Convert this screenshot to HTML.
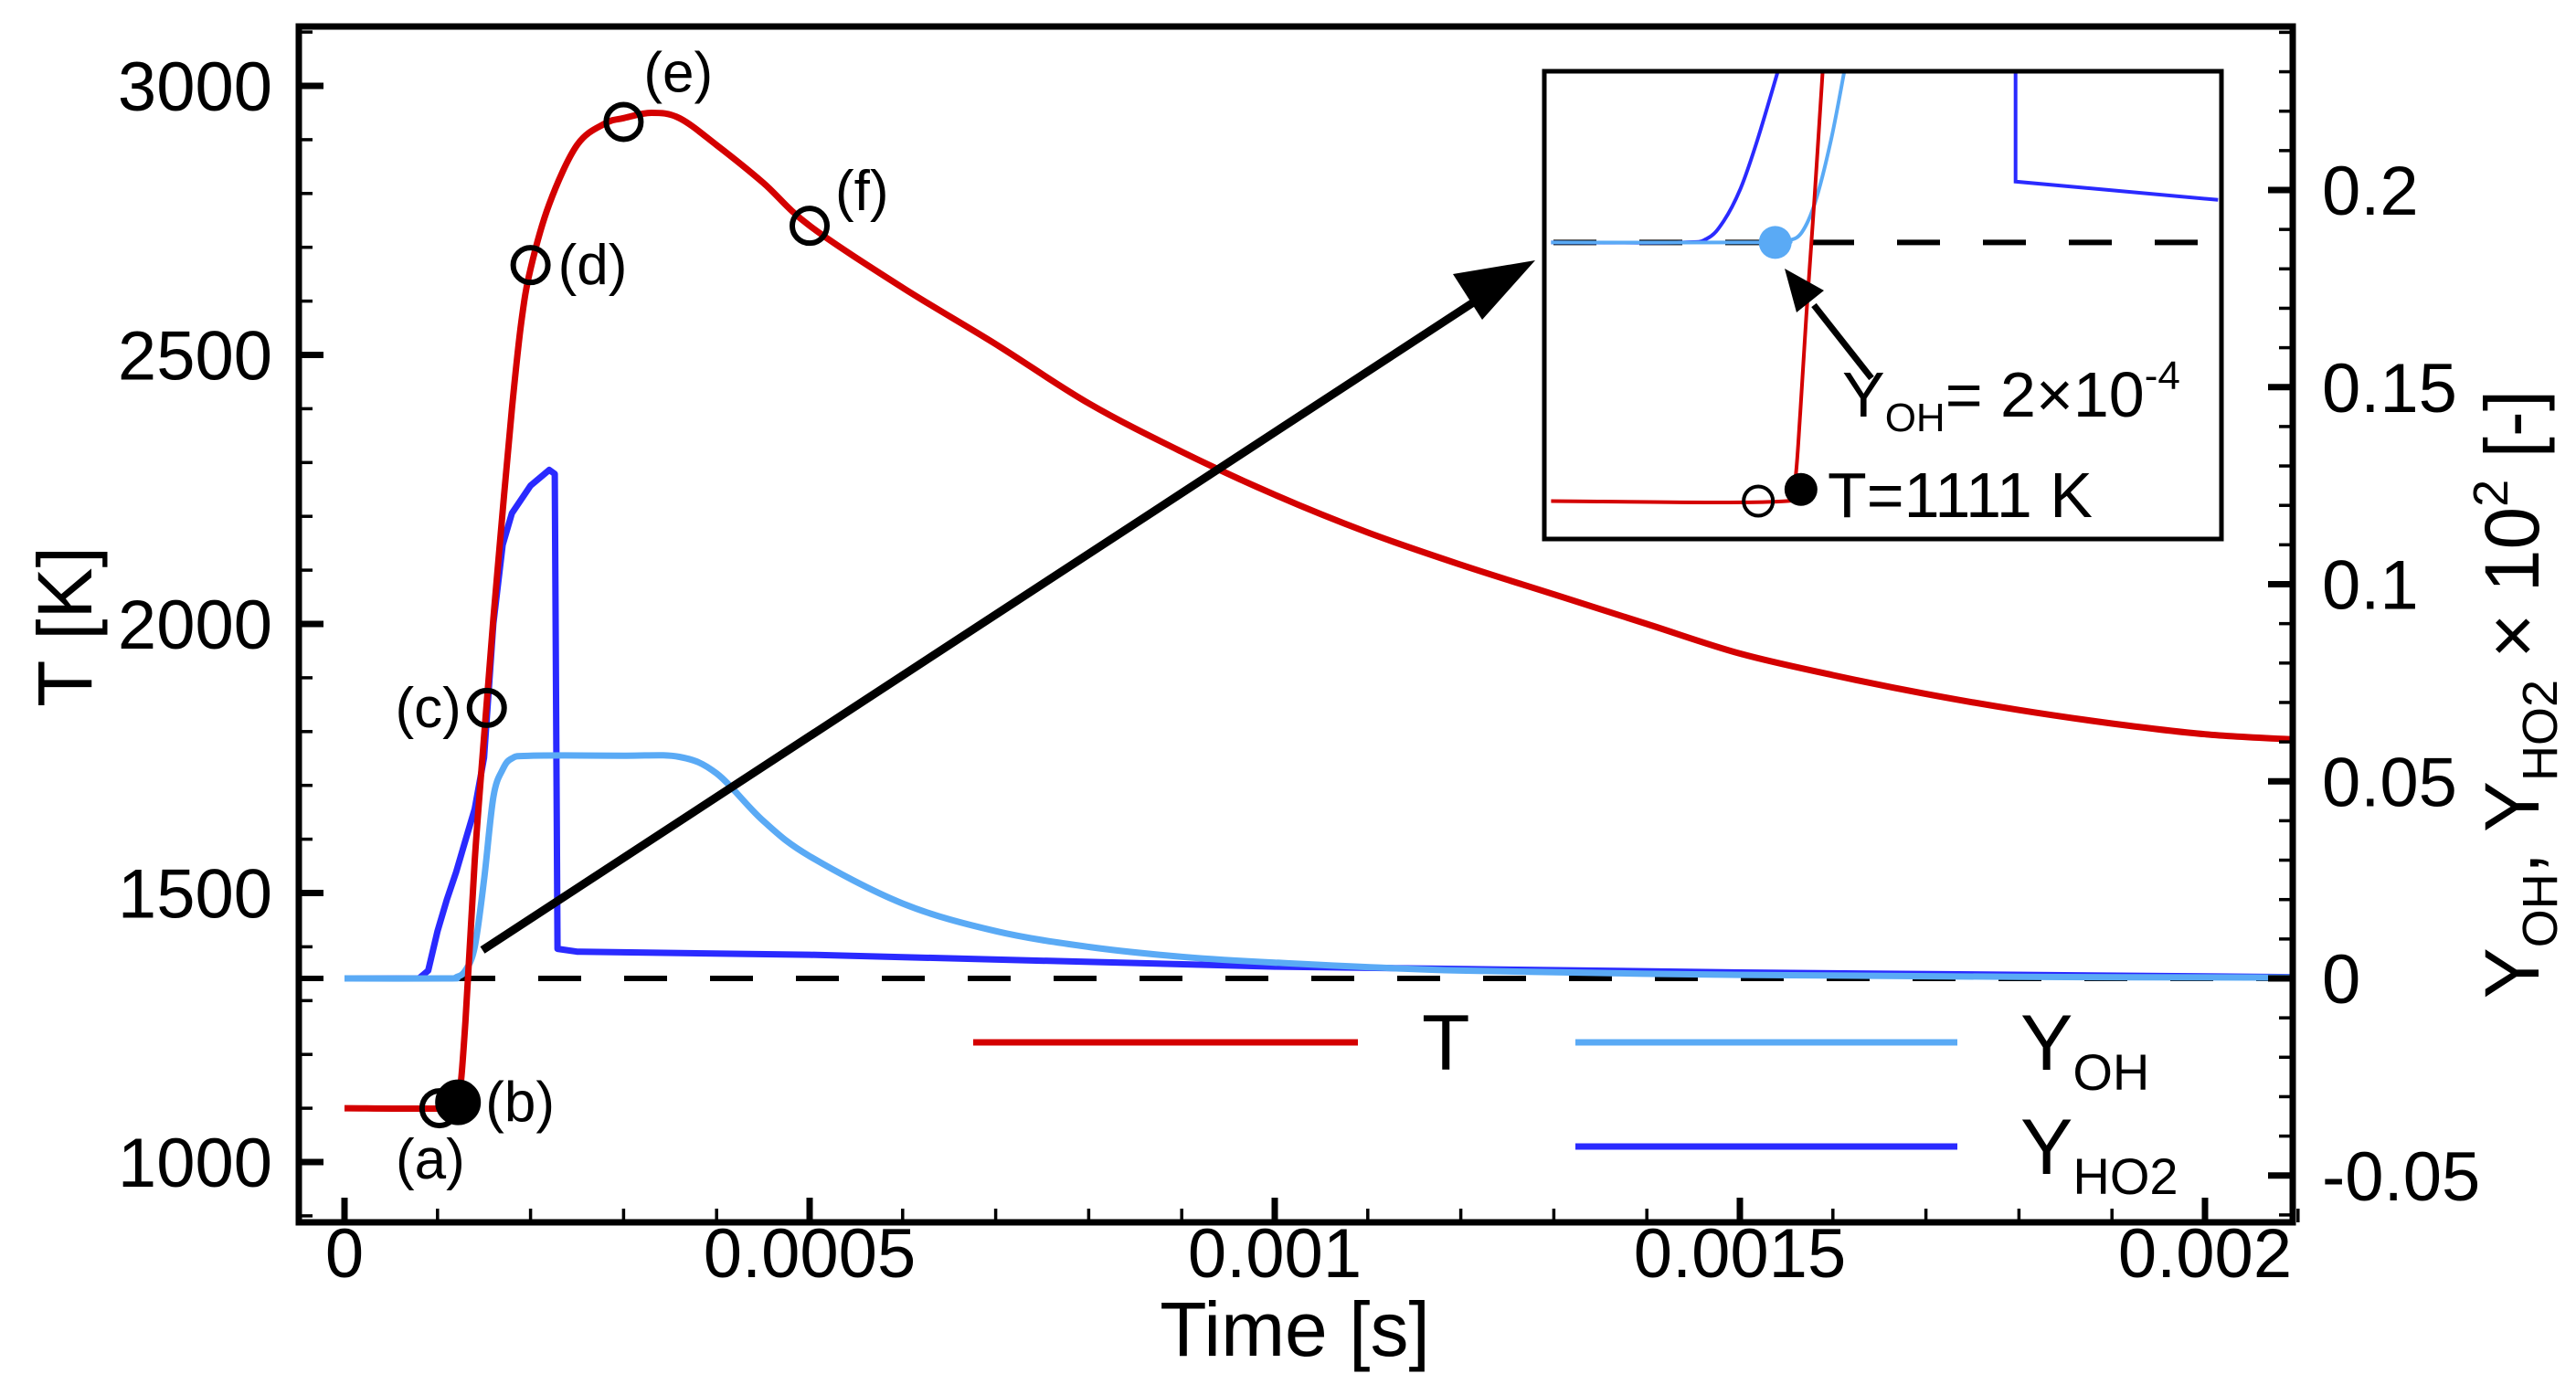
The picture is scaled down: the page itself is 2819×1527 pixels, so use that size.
<!DOCTYPE html>
<html><head><meta charset="utf-8"><style>
html,body{margin:0;padding:0;background:#fff;}
svg{display:block;font-family:"Liberation Sans",sans-serif;}
</style></head><body>
<svg id="chart" width="2819" height="1527" viewBox="0 0 2819 1527" xmlns="http://www.w3.org/2000/svg">
<g id="plot"></g>
</svg>
<script>
// ---- data ----
const tTime = [0,0.00011,0.000122,0.00013,0.00014,0.00015,0.00016,0.00017,0.00018,0.00019,0.0002,0.00022,0.00025,0.00028,0.0003,0.00033,0.00036,0.0004,0.00045,0.0005,0.0006,0.0007,0.0008,0.0009,0.001,0.0011,0.0012,0.0013,0.0014,0.0015,0.0016,0.0017,0.0018,0.0019,0.002,0.0021];
const tValues = [1100,1100,1111,1260,1560,1790,2010,2210,2400,2560,2660,2780,2890,2930,2940,2950,2940,2890,2820,2740,2625,2520,2410,2320,2240,2170,2110,2055,2000,1945,1905,1870,1840,1815,1795,1785];
const ohTime = [0,0.00011,0.00012,0.00013,0.00014,0.00015,0.00016,0.00017,0.00018,0.0002,0.0003,0.00036,0.0004,0.00045,0.0005,0.0006,0.0007,0.0008,0.0009,0.001,0.0012,0.0015,0.0018,0.0021];
const ohValues = [0,0,0.0003,0.002,0.008,0.025,0.046,0.053,0.0558,0.0565,0.0565,0.0562,0.052,0.040,0.031,0.019,0.012,0.008,0.0055,0.004,0.002,0.0009,0.0004,0.0002];
const ho2Time = [0,0.00008,0.00009,0.0001,0.00011,0.00012,0.00013,0.00014,0.00015,0.00016,0.00017,0.00018,0.0002,0.00022,0.000226,0.000229,0.00025,0.0005,0.001,0.0015,0.002,0.0021];
const ho2Values = [0,0,0.002,0.012,0.02,0.027,0.035,0.043,0.056,0.09,0.11,0.118,0.125,0.129,0.128,0.0075,0.0068,0.006,0.003,0.0015,0.0005,0.0003];
const xTicks = [0,0.0005,0.001,0.0015,0.002];
const xTickLabels = ["0","0.0005","0.001","0.0015","0.002"];
const yTicks = [1000,1500,2000,2500,3000];
const yTickLabels = ["1000","1500","2000","2500","3000"];
const y2Ticks = [-0.05,0,0.05,0.1,0.15,0.2];
const y2TickLabels = ["-0.05","0","0.05","0.1","0.15","0.2"];
const markerTimes = [0.000102,0.000122,0.000153,0.0002,0.0003,0.0005];
const markerTemps = [1100,1111,1844,2667,2933,2740];
const markerLabels = ["(a)","(b)","(c)","(d)","(e)","(f)"];
// inset (normalized coordinates 0..1)
const insetRedU = [0.01,0.358,0.37,0.378,0.387,0.399,0.411];
const insetRedV = [0.081,0.081,0.12,0.27,0.48,0.73,1.0];
const insetHo2U = [0.01,0.2,0.24,0.265,0.29,0.314,0.345];
const insetHo2V = [0.634,0.634,0.642,0.68,0.75,0.85,1.0];
const insetOhU = [0.01,0.33,0.36,0.38,0.4,0.423,0.443];
const insetOhV = [0.634,0.634,0.638,0.655,0.72,0.85,1.0];
const insetDropU = [0.696,0.696,0.995];
const insetDropV = [1.0,0.764,0.725];

// ---- scales ----
const L=327,R=2509,T=29,B=1338;
const X=t=>377+t*1018000;
const YT=v=>1272-(v-1000)*0.589;
const YR=v=>1071-v*4315;
const IL=1690,IR=2431,IT=78,IB=590;
const IX=u=>IL+u*(IR-IL), IY=v=>IB-v*(IB-IT);
const NS="http://www.w3.org/2000/svg";
const g=document.getElementById('plot');
function mk(tag,attrs,parent){const e=document.createElementNS(NS,tag);for(const k in attrs)e.setAttribute(k,attrs[k]);(parent||g).appendChild(e);return e;}
function path(xs,ys,fx,fy){return xs.map((x,i)=>(i?'L':'M')+fx(x).toFixed(1)+','+fy(ys[i]).toFixed(1)).join('');}
function smooth(xs,ys,fx,fy){
  const p=xs.map((x,i)=>[fx(x),fy(ys[i])]);
  let d='M'+p[0][0].toFixed(1)+','+p[0][1].toFixed(1);
  for(let i=0;i<p.length-1;i++){
    const p0=p[i-1]||p[i],p1=p[i],p2=p[i+1],p3=p[i+2]||p2;
    const c1=[p1[0]+(p2[0]-p0[0])/6,p1[1]+(p2[1]-p0[1])/6];
    const c2=[p2[0]-(p3[0]-p1[0])/6,p2[1]-(p3[1]-p1[1])/6];
    d+='C'+c1[0].toFixed(1)+','+c1[1].toFixed(1)+' '+c2[0].toFixed(1)+','+c2[1].toFixed(1)+' '+p2[0].toFixed(1)+','+p2[1].toFixed(1);
  }
  return d;
}

const defs=mk('defs',{});
const cp=mk('clipPath',{id:'clip'},defs);mk('rect',{x:L,y:T,width:R-L,height:B-T},cp);
const cp2=mk('clipPath',{id:'iclip'},defs);mk('rect',{x:IL,y:IT,width:IR-IL,height:IB-IT},cp2);

let e=mk('line',{x1:L,x2:R,y1:YR(0),y2:YR(0),stroke:'#000','stroke-width':6,'stroke-dasharray':'47 47','stroke-dashoffset':'20'});



const cg=mk('g',{'clip-path':'url(#clip)'});
e=mk('path',{d:path(ho2Time,ho2Values,X,YR),fill:'none',stroke:'#2a2aff','stroke-width':7,'stroke-linejoin':'round'},cg);


e=mk('path',{d:smooth(ohTime,ohValues,X,YR),fill:'none',stroke:'#5aaaf5','stroke-width':7,'stroke-linejoin':'round'},cg);


e=mk('path',{d:smooth(tTime,tValues,X,YT),fill:'none',stroke:'#d40000','stroke-width':7,'stroke-linejoin':'round'},cg);



const lblOff=[[-10,72,'middle'],[30,16,'start'],[-28,16,'end'],[30,16,'start'],[22,-38,'start'],[28,-22,'start']];
markerTimes.forEach((t,i)=>{
  const cx=X(t),cy=YT(markerTemps[i]);
  e=mk('circle',{cx:cx,cy:cy,r:i==1?22:19,fill:i==1?'#000':'none',stroke:'#000','stroke-width':6});
  
  
  const o=lblOff[i];
  e=mk('text',{x:cx+o[0],y:cy+o[1]+5,'font-size':62,'text-anchor':o[2]});
  e.textContent=markerLabels[i];
  
  
});

e=mk('line',{x1:528,y1:1040,x2:1620,y2:326,stroke:'#000','stroke-width':9});


e=mk('polygon',{points:'1680,285 1590,300 1622,350',fill:'#000'});



const ig=mk('g',{});


mk('rect',{x:IL,y:IT,width:IR-IL,height:IB-IT,fill:'#fff',stroke:'none'},ig);
const icg=mk('g',{'clip-path':'url(#iclip)'},ig);
e=mk('line',{x1:IL,x2:IR,y1:IY(0.634),y2:IY(0.634),stroke:'#000','stroke-width':6,'stroke-dasharray':'47 47','stroke-dashoffset':'-10'},icg);


e=mk('path',{d:smooth(insetHo2U,insetHo2V,IX,IY),fill:'none',stroke:'#2a2aff','stroke-width':4},icg);


e=mk('path',{d:path(insetDropU,insetDropV,IX,IY),fill:'none',stroke:'#2a2aff','stroke-width':4},icg);


e=mk('path',{d:smooth(insetOhU,insetOhV,IX,IY),fill:'none',stroke:'#5aaaf5','stroke-width':4},icg);


e=mk('path',{d:smooth(insetRedU,insetRedV,IX,IY),fill:'none',stroke:'#d40000','stroke-width':4},icg);


e=mk('circle',{cx:IX(0.341),cy:IY(0.634),r:18,fill:'#5aaaf5'},ig);


e=mk('circle',{cx:IX(0.316),cy:IY(0.081),r:16,fill:'none',stroke:'#000','stroke-width':4},ig);


e=mk('circle',{cx:IX(0.379),cy:IY(0.106),r:18,fill:'#000'},ig);


e=mk('line',{x1:2048,y1:414,x2:1985,y2:334,stroke:'#000','stroke-width':7},ig);


e=mk('polygon',{points:'1953,294 1996,318 1966,342',fill:'#000'},ig);


e=mk('text',{x:2016,y:456,'font-size':70},ig);
e.innerHTML='Y<tspan font-size="44" dy="16">OH</tspan><tspan dy="-16">= 2×10</tspan><tspan font-size="44" dy="-30">-4</tspan>';


e=mk('text',{x:2000,y:566,'font-size':70},ig);
e.textContent='T=1111 K';


mk('rect',{x:IL,y:IT,width:IR-IL,height:IB-IT,fill:'none',stroke:'#000','stroke-width':5},ig);

const legend=[['#d40000',1065,1486,1141,'T'],['#5aaaf5',1724,2142,1141,'Y','OH'],['#2a2aff',1724,2142,1255,'Y','HO2']];
legend.forEach((l,i)=>{
  e=mk('line',{x1:l[1],x2:l[2],y1:l[3],y2:l[3],stroke:l[0],'stroke-width':7});
  
  
  e=mk('text',{x:i==0?1556:2211,y:l[3]+30,'font-size':86});
  e.innerHTML=l[5]?l[4]+'<tspan font-size="56" dy="22">'+l[5]+'</tspan>':l[4];
  
  
});

e=mk('rect',{x:L,y:T,width:R-L,height:B-T,fill:'none',stroke:'#000','stroke-width':7});



for(let k=0;k<=21;k++){const t=k*0.0001,x=X(t);const maj=k%5==0;
  e=mk('line',{x1:x,x2:x,y1:B,y2:B-(maj?27:15),stroke:'#000','stroke-width':maj?7:3.5});
  
  }
xTicks.forEach((t,i)=>{e=mk('text',{x:X(t),y:1398,'font-size':76,'text-anchor':'middle'});e.textContent=xTickLabels[i];
  
  });
for(let v=900;v<=3100;v+=100){const y=YT(v);if(y<T||y>B)continue;const maj=v%500==0;
  e=mk('line',{x1:L,x2:L+(maj?27:15),y1:y,y2:y,stroke:'#000','stroke-width':maj?7:3.5});
  
  }
yTicks.forEach((v,i)=>{e=mk('text',{x:298,y:YT(v)+27,'font-size':76,'text-anchor':'end'});e.textContent=yTickLabels[i];
  
  });
for(let k=-6;k<=24;k++){const v=k*0.01,y=YR(v);if(y<T||y>B)continue;const maj=k%5==0;
  e=mk('line',{x1:R,x2:R-(maj?27:15),y1:y,y2:y,stroke:'#000','stroke-width':maj?7:3.5});
  
  }
y2Ticks.forEach((v,i)=>{e=mk('text',{x:2541,y:YR(v)+27,'font-size':76});e.textContent=y2TickLabels[i];
  
  });

e=mk('text',{x:1417,y:1484,'font-size':84,'text-anchor':'middle'});e.textContent='Time [s]';


e=mk('text',{x:0,y:0,'font-size':84,'text-anchor':'middle',transform:'translate(100,686) rotate(-90)'});e.textContent='T [K]';


e=mk('text',{x:0,y:0,'font-size':84,'text-anchor':'middle',transform:'translate(2778,760) rotate(-90)'});
e.innerHTML='Y<tspan font-size="54" dy="20">OH</tspan><tspan dy="-20">, Y</tspan><tspan font-size="54" dy="20">HO2</tspan><tspan dy="-20"> × 10</tspan><tspan font-size="54" dy="-34">2</tspan><tspan dy="34"> [-]</tspan>';


</script>
</body></html>
